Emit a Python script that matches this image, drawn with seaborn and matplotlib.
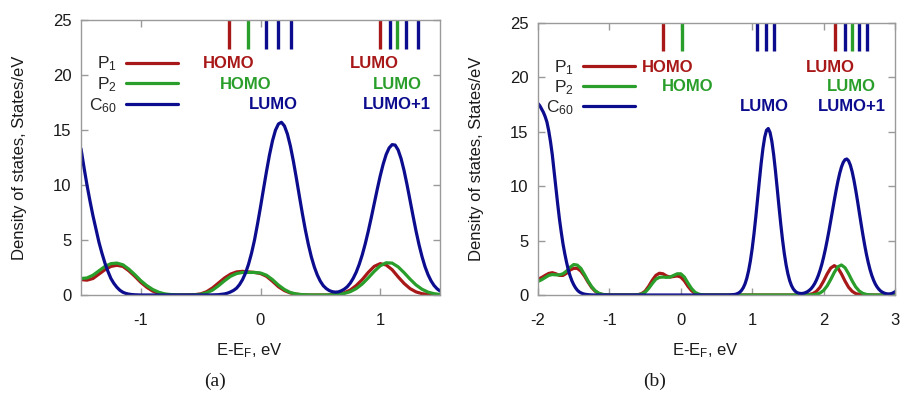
import matplotlib
matplotlib.use("Agg")
import matplotlib.pyplot as plt
import numpy as np
import pandas as pd
import seaborn as sns

# ---------------- data: panel (a) ----------------
energy_a = [-1.50, -1.45, -1.40, -1.35, -1.30, -1.25, -1.20, -1.15, -1.10, -1.05,
            -1.00, -0.95, -0.90, -0.85, -0.80, -0.75, -0.70, -0.65, -0.60, -0.55,
            -0.50, -0.45, -0.40, -0.35, -0.30, -0.25, -0.20, -0.15, -0.10, -0.05,
            0.00, 0.05, 0.10, 0.15, 0.20, 0.25, 0.30, 0.35, 0.40, 0.45,
            0.50, 0.55, 0.60, 0.65, 0.70, 0.75, 0.80, 0.85, 0.90, 0.95,
            1.00, 1.05, 1.10, 1.15, 1.20, 1.25, 1.30, 1.35, 1.40, 1.45, 1.50]
p1_a = [1.40, 1.35, 1.50, 1.90, 2.30, 2.60, 2.70, 2.60, 2.20, 1.70,
        1.15, 0.70, 0.35, 0.15, 0.05, 0.01, 0.00, 0.00, 0.01, 0.03,
        0.10, 0.30, 0.65, 1.10, 1.55, 1.90, 2.10, 2.15, 2.10, 2.05,
        1.95, 1.70, 1.25, 0.75, 0.40, 0.18, 0.07, 0.02, 0.00, 0.00,
        0.00, 0.00, 0.03, 0.08, 0.20, 0.45, 0.86, 1.40, 2.05, 2.60,
        2.85, 2.73, 2.30, 1.65, 1.05, 0.58, 0.28, 0.12, 0.05, 0.02, 0.00]
p2_a = [1.50, 1.55, 1.80, 2.20, 2.60, 2.85, 2.90, 2.75, 2.35, 1.85,
        1.30, 0.85, 0.50, 0.25, 0.10, 0.04, 0.01, 0.00, 0.00, 0.02,
        0.06, 0.20, 0.45, 0.85, 1.30, 1.70, 1.95, 2.05, 2.05, 2.05,
        2.00, 1.80, 1.40, 0.90, 0.50, 0.22, 0.09, 0.03, 0.01, 0.00,
        0.00, 0.00, 0.02, 0.06, 0.14, 0.30, 0.58, 1.00, 1.55, 2.14,
        2.65, 2.93, 2.90, 2.56, 2.03, 1.44, 0.91, 0.52, 0.26, 0.12, 0.05]
energy_a_c60 = [-1.500, -1.475, -1.450, -1.425, -1.400, -1.375, -1.350, -1.325, -1.300, -1.275,
                -1.250, -1.225, -1.200, -1.175, -1.150, -1.125, -1.100, -1.075, -1.050, -1.025,
                -1.000, -0.900, -0.800, -0.700, -0.600, -0.500, -0.450, -0.400, -0.350, -0.300,
                -0.275, -0.250, -0.225, -0.200, -0.175, -0.150, -0.125, -0.100, -0.075, -0.050,
                -0.025, 0.000, 0.025, 0.050, 0.075, 0.100, 0.125, 0.150, 0.175, 0.200,
                0.225, 0.250, 0.275, 0.300, 0.325, 0.350, 0.375, 0.400, 0.425, 0.450,
                0.475, 0.500, 0.525, 0.550, 0.575, 0.600, 0.625, 0.650, 0.675, 0.700,
                0.725, 0.750, 0.775, 0.800, 0.825, 0.850, 0.875, 0.900, 0.925, 0.950,
                0.975, 1.000, 1.025, 1.050, 1.075, 1.100, 1.125, 1.150, 1.175, 1.200,
                1.225, 1.250, 1.275, 1.300, 1.325, 1.350, 1.375, 1.400, 1.425, 1.450,
                1.475, 1.500]
c60_a = [13.3, 11.6, 10.0, 8.55, 7.2, 6.0, 4.8, 3.8, 2.9, 2.15,
         1.5, 1.05, 0.7, 0.43, 0.25, 0.14, 0.08, 0.04, 0.02, 0.01,
         0.0, 0.0, 0.0, 0.0, 0.0, 0.0, 0.0, 0.01, 0.03, 0.1,
         0.17, 0.28, 0.42, 0.62, 0.95, 1.4, 2.0, 2.8, 3.8, 5.0,
         6.45, 8.0, 9.63, 11.23, 12.73, 14.01, 14.98, 15.55, 15.7, 15.37,
         14.63, 13.53, 12.15, 10.6, 8.98, 7.39, 5.91, 4.59, 3.46, 2.54,
         1.81, 1.25, 0.84, 0.58, 0.4, 0.3, 0.26, 0.28, 0.38, 0.53,
         0.75, 1.08, 1.52, 2.08, 2.79, 3.64, 4.64, 5.77, 7.0, 8.29,
         9.58, 10.81, 11.89, 12.77, 13.37, 13.67, 13.63, 13.19, 12.39, 11.3,
         10.0, 8.59, 7.17, 5.8, 4.56, 3.48, 2.57, 1.85, 1.29, 0.87,
         0.57, 0.37]

# ---------------- data: panel (b) ----------------
energy_b = [-2.00, -1.95, -1.90, -1.85, -1.80, -1.75, -1.70, -1.65, -1.60, -1.55,
            -1.50, -1.45, -1.40, -1.35, -1.30, -1.25, -1.20, -1.15, -1.10, -1.05,
            -1.00, -0.95, -0.90, -0.85, -0.80, -0.75, -0.70, -0.65, -0.60, -0.55,
            -0.50, -0.45, -0.40, -0.35, -0.30, -0.25, -0.20, -0.15, -0.10, -0.05,
            0.00, 0.05, 0.10, 0.15, 0.20, 0.25, 0.30, 0.35, 0.40, 0.45,
            0.50, 0.55, 0.60, 0.65, 0.70, 0.75, 0.80, 0.85, 0.90, 0.95,
            1.00, 1.05, 1.10, 1.15, 1.20, 1.25, 1.30, 1.35, 1.40, 1.45,
            1.50, 1.55, 1.60, 1.65, 1.70, 1.75, 1.80, 1.85, 1.90, 1.95,
            2.00, 2.05, 2.10, 2.15, 2.20, 2.25, 2.30, 2.35, 2.40, 2.45,
            2.50, 2.55, 2.60, 2.65, 2.70, 2.75, 2.80, 2.85, 2.90, 2.95, 3.00]
p1_b = [1.45, 1.60, 1.80, 1.98, 2.05, 1.95, 1.80, 1.80, 2.00, 2.30,
        2.45, 2.45, 2.20, 1.75, 1.20, 0.70, 0.35, 0.15, 0.05, 0.02,
        0.00, 0.00, 0.00, 0.00, 0.00, 0.00, 0.00, 0.00, 0.03, 0.12,
        0.35, 0.80, 1.35, 1.80, 2.00, 1.95, 1.75, 1.65, 1.70, 1.75,
        1.65, 1.30, 0.80, 0.40, 0.15, 0.05, 0.01, 0.00, 0.00, 0.00,
        0.00, 0.00, 0.00, 0.00, 0.00, 0.00, 0.00, 0.00, 0.00, 0.00,
        0.00, 0.00, 0.00, 0.00, 0.00, 0.00, 0.00, 0.00, 0.00, 0.00,
        0.00, 0.00, 0.00, 0.00, 0.00, 0.01, 0.05, 0.13, 0.34, 0.71,
        1.28, 1.94, 2.48, 2.70, 2.48, 1.94, 1.28, 0.71, 0.34, 0.13,
        0.05, 0.01, 0.00, 0.00, 0.00, 0.00, 0.00, 0.00, 0.00, 0.00, 0.00]
p2_b = [1.25, 1.40, 1.60, 1.80, 1.88, 1.85, 1.85, 1.95, 2.20, 2.55,
        2.80, 2.75, 2.45, 1.90, 1.30, 0.78, 0.40, 0.17, 0.06, 0.02,
        0.00, 0.00, 0.00, 0.00, 0.00, 0.00, 0.00, 0.00, 0.02, 0.08,
        0.25, 0.60, 1.05, 1.45, 1.62, 1.65, 1.62, 1.65, 1.80, 1.95,
        1.95, 1.65, 1.10, 0.60, 0.25, 0.08, 0.02, 0.00, 0.00, 0.00,
        0.00, 0.00, 0.00, 0.00, 0.00, 0.00, 0.00, 0.00, 0.00, 0.00,
        0.00, 0.00, 0.00, 0.00, 0.00, 0.00, 0.00, 0.00, 0.00, 0.00,
        0.00, 0.00, 0.00, 0.00, 0.00, 0.00, 0.01, 0.02, 0.07, 0.18,
        0.42, 0.84, 1.43, 2.08, 2.59, 2.76, 2.51, 1.95, 1.30, 0.74,
        0.36, 0.15, 0.05, 0.02, 0.00, 0.00, 0.00, 0.00, 0.00, 0.00, 0.00]
energy_b_c60 = [-2.000, -1.975, -1.950, -1.925, -1.900, -1.875, -1.850, -1.825, -1.800, -1.775,
                -1.750, -1.725, -1.700, -1.675, -1.650, -1.625, -1.600, -1.575, -1.550, -1.525,
                -1.500, -1.475, -1.450, -1.425, -1.400, -1.375, -1.350, -1.300, -1.250, -1.200,
                -1.000, -0.500, 0.000, 0.500, 0.650, 0.700, 0.750, 0.775, 0.800, 0.825,
                0.850, 0.875, 0.900, 0.925, 0.950, 0.975, 1.000, 1.025, 1.050, 1.075,
                1.100, 1.125, 1.150, 1.175, 1.200, 1.225, 1.250, 1.275, 1.300, 1.325,
                1.350, 1.375, 1.400, 1.425, 1.450, 1.475, 1.500, 1.525, 1.550, 1.575,
                1.600, 1.625, 1.650, 1.675, 1.700, 1.725, 1.750, 1.775, 1.800, 1.825,
                1.850, 1.875, 1.900, 1.925, 1.950, 1.975, 2.000, 2.025, 2.050, 2.075,
                2.100, 2.125, 2.150, 2.175, 2.200, 2.225, 2.250, 2.275, 2.300, 2.325,
                2.350, 2.375, 2.400, 2.425, 2.450, 2.475, 2.500, 2.525, 2.550, 2.575,
                2.600, 2.625, 2.650, 2.675, 2.700, 2.725, 2.750, 2.775, 2.800, 2.825,
                2.850, 2.875, 2.900, 2.925, 2.950, 2.975, 3.000]
c60_b = [17.6, 17.4, 17.1, 16.8, 16.4, 15.9, 15.1, 14.1, 12.9, 11.4,
         9.9, 8.4, 7.0, 5.8, 4.7, 3.8, 3.0, 2.3, 1.75, 1.3,
         0.95, 0.67, 0.45, 0.3, 0.2, 0.13, 0.08, 0.03, 0.01, 0.0,
         0.0, 0.0, 0.0, 0.0, 0.0, 0.01, 0.046, 0.08, 0.15, 0.25,
         0.42, 0.67, 1.03, 1.55, 2.25, 3.15, 4.28, 5.62, 7.15, 8.8,
         10.47, 12.07, 13.45, 14.5, 15.14, 15.3, 14.94, 14.13, 12.93, 11.45,
         9.81, 8.13, 6.52, 5.06, 3.8, 2.76, 1.94, 1.32, 0.87, 0.56,
         0.36, 0.23, 0.17, 0.14, 0.14, 0.17, 0.23, 0.31, 0.43, 0.58,
         0.79, 1.05, 1.38, 1.78, 2.26, 2.82, 3.48, 4.21, 5.03, 5.9,
         6.83, 7.77, 8.71, 9.61, 10.44, 11.17, 11.76, 12.19, 12.44, 12.5,
         12.33, 11.93, 11.33, 10.55, 9.64, 8.64, 7.59, 6.55, 5.54, 4.6,
         3.74, 2.99, 2.34, 1.8, 1.36, 1.0, 0.73, 0.52, 0.36, 0.25,
         0.17, 0.12, 0.1, 0.1, 0.13, 0.2, 0.3]

# energy levels (top stick spectra)
levels_a_p1 = [-0.262, 0.999]
levels_a_p2 = [-0.108, 1.141]
levels_a_c60 = [0.042, 0.150, 0.254, 1.079, 1.212, 1.319]
levels_b_p1 = [-0.249, 2.165]
levels_b_p2 = [0.010, 2.394]
levels_b_c60 = [1.066, 1.188, 1.310, 2.296, 2.497, 2.606]

series_names = ["P$_1$", "P$_2$", "C$_{60}$"]
line_colors = ["#a81818", "#2a9e2a", "#0c0c8e"]
xticks_a = [-1, 0, 1]
xticks_b = [-2, -1, 0, 1, 2, 3]
yticks = [0, 5, 10, 15, 20, 25]

# ---------------- style ----------------
sns.set_style("ticks")
plt.rcParams["font.family"] = ["Liberation Sans", "DejaVu Sans"]
plt.rcParams["mathtext.fontset"] = "custom"
plt.rcParams["mathtext.rm"] = "Liberation Sans"
plt.rcParams["mathtext.it"] = "Liberation Sans:italic"
plt.rcParams["mathtext.default"] = "regular"
plt.rcParams["axes.unicode_minus"] = False

frame_col = "#9a9a9a"
text_col = "#1a1a1a"

fig = plt.figure(figsize=(9.03, 3.94), dpi=100)
ax_a = fig.add_axes([81 / 903, 1 - 295 / 394, 359 / 903, 275 / 394])
ax_b = fig.add_axes([538 / 903, 1 - 295 / 394, 357 / 903, 272 / 394])


def draw_panel(ax, xs, curves, levels, xlim, xticks, legend_anchor, lspace, notes):
    df = pd.DataFrame({
        "E": list(xs[0]) + list(xs[1]) + list(xs[2]),
        "DOS": list(curves[0]) + list(curves[1]) + list(curves[2]),
        "series": sum([[n] * len(x) for n, x in zip(series_names, xs)], []),
    })
    sns.lineplot(data=df, x="E", y="DOS", hue="series", hue_order=series_names,
                 palette=dict(zip(series_names, line_colors)), estimator=None,
                 lw=2.3, ax=ax)
    for lv, c in zip(levels, line_colors):
        ax.vlines(lv, 22.4, 25, colors=c, lw=2.4, clip_on=False)
    for txt, x, y, c in notes:
        ax.text(x, y, txt, color=c, fontweight="bold", fontsize=12,
                ha="center", va="center")
    h, l = ax.get_legend_handles_labels()
    ax.legend(h, l, markerfirst=False, frameon=False, loc="upper right",
              bbox_to_anchor=legend_anchor, handlelength=3.0, handletextpad=0.5,
              labelspacing=lspace, borderpad=0, borderaxespad=0, fontsize=12.5)
    ax.set_xlim(*xlim)
    ax.set_ylim(0, 25)
    ax.set_xticks(xticks)
    ax.set_yticks(yticks)
    ax.tick_params(direction="in", length=5, width=1, color=frame_col,
                   top=True, right=True, labelsize=12, labelcolor=text_col)
    ax.tick_params(axis="x", pad=13)
    ax.tick_params(axis="y", pad=7)
    for s in ax.spines.values():
        s.set_color(frame_col)
        s.set_linewidth(1)
    ax.set_xlabel("E-E$_F$, eV", fontsize=12, color=text_col)
    ax.set_ylabel("Density of states, States/eV", fontsize=12, color=text_col)
    ax.xaxis.set_label_coords(0.47, -0.17)
    ax.yaxis.set_label_coords(-0.15, 0.5)


draw_panel(ax_a, [energy_a, energy_a, energy_a_c60], [p1_a, p2_a, c60_a],
           [levels_a_p1, levels_a_p2, levels_a_c60], (-1.5, 1.5), xticks_a,
           (0.27, 0.874), 0.11,
           [("HOMO", -0.27, 21.05, line_colors[0]),
            ("HOMO", -0.127, 19.15, line_colors[1]),
            ("LUMO", 0.11, 17.35, line_colors[2]),
            ("LUMO", 0.955, 21.05, line_colors[0]),
            ("LUMO", 1.14, 19.15, line_colors[1]),
            ("LUMO+1", 1.14, 17.35, line_colors[2])])

draw_panel(ax_b, [energy_b, energy_b, energy_b_c60], [p1_b, p2_b, c60_b],
           [levels_b_p1, levels_b_p2, levels_b_c60], (-2, 3), xticks_b,
           (0.272, 0.871), 0.08,
           [("HOMO", -0.18, 20.9, line_colors[0]),
            ("HOMO", 0.10, 19.2, line_colors[1]),
            ("LUMO", 1.17, 17.3, line_colors[2]),
            ("LUMO", 2.10, 20.9, line_colors[0]),
            ("LUMO", 2.39, 19.2, line_colors[1]),
            ("LUMO+1", 2.39, 17.3, line_colors[2])])

fig.text(215 / 903, 1 - 381 / 394, "(a)", family=["Liberation Serif"],
         fontsize=14, ha="center", va="center", color=text_col)
fig.text(655 / 903, 1 - 381 / 394, "(b)", family=["Liberation Serif"],
         fontsize=14, ha="center", va="center", color=text_col)

fig.savefig("out.png", dpi=100)
